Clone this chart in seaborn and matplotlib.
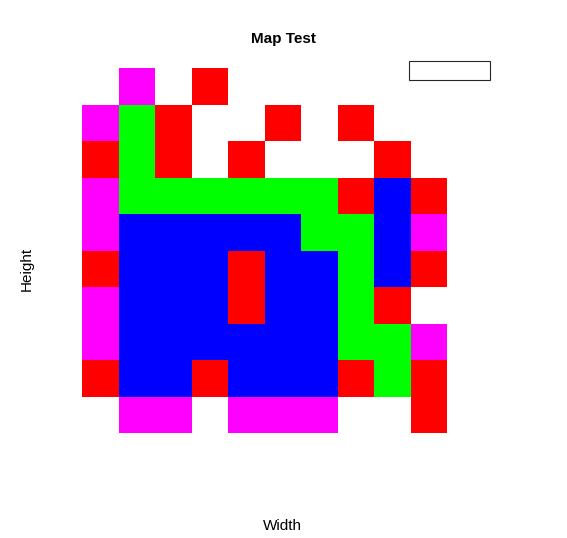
import numpy as np
import matplotlib
matplotlib.use('Agg')
import matplotlib.pyplot as plt
from matplotlib.colors import ListedColormap
from matplotlib.patches import Rectangle
import seaborn as sns

# tile codes: 0 = empty, 1 = red, 2 = green, 3 = blue, 4 = magenta
tile_names = ['red', 'green', 'blue', 'magenta']
tile_colors = ['#ff0000', '#00ff00', '#0000ff', '#ff00ff']

row_0 = [0, 4, 0, 1, 0, 0, 0, 0, 0, 0]
row_1 = [4, 2, 1, 0, 0, 1, 0, 1, 0, 0]
row_2 = [1, 2, 1, 0, 1, 0, 0, 0, 1, 0]
row_3 = [4, 2, 2, 2, 2, 2, 2, 1, 3, 1]
row_4 = [4, 3, 3, 3, 3, 3, 2, 2, 3, 4]
row_5 = [1, 3, 3, 3, 1, 3, 3, 2, 3, 1]
row_6 = [4, 3, 3, 3, 1, 3, 3, 2, 1, 0]
row_7 = [4, 3, 3, 3, 3, 3, 3, 2, 2, 4]
row_8 = [1, 3, 3, 1, 3, 3, 3, 1, 2, 1]
row_9 = [0, 4, 4, 0, 4, 4, 4, 0, 0, 1]

grid = np.array([row_0, row_1, row_2, row_3, row_4,
                 row_5, row_6, row_7, row_8, row_9], dtype=float)
mask = grid == 0

sns.set_style("white")
plt.rcParams['font.family'] = ['Liberation Sans', 'DejaVu Sans']
plt.rcParams['text.color'] = 'black'

W, H = 567, 538
fig = plt.figure(figsize=(W / 100, H / 100), dpi=100)
ax = fig.add_axes([82 / W, (H - 433) / H, 365 / W, 365 / H])

sns.heatmap(grid, mask=mask, cmap=ListedColormap(tile_colors),
            vmin=0.5, vmax=4.5, cbar=False,
            xticklabels=False, yticklabels=False, ax=ax)
ax.set_axis_off()

# labels
fig.text(283 / W, 1 - 39 / H, 'Map Test', ha='center', va='center',
         fontsize=11, fontweight='bold')
fig.text(282 / W, 1 - 526 / H, 'Width', ha='center', va='center', fontsize=11)
fig.text(27 / W, 1 - 269 / H, 'Height', ha='center', va='center',
         fontsize=11, rotation=90)

# empty legend box
fig.add_artist(Rectangle((409 / W, 1 - 80 / H), 81 / W, 19 / H,
                         transform=fig.transFigure, fill=False,
                         edgecolor='#262626', lw=0.8))

fig.savefig('out.png', dpi=100)
